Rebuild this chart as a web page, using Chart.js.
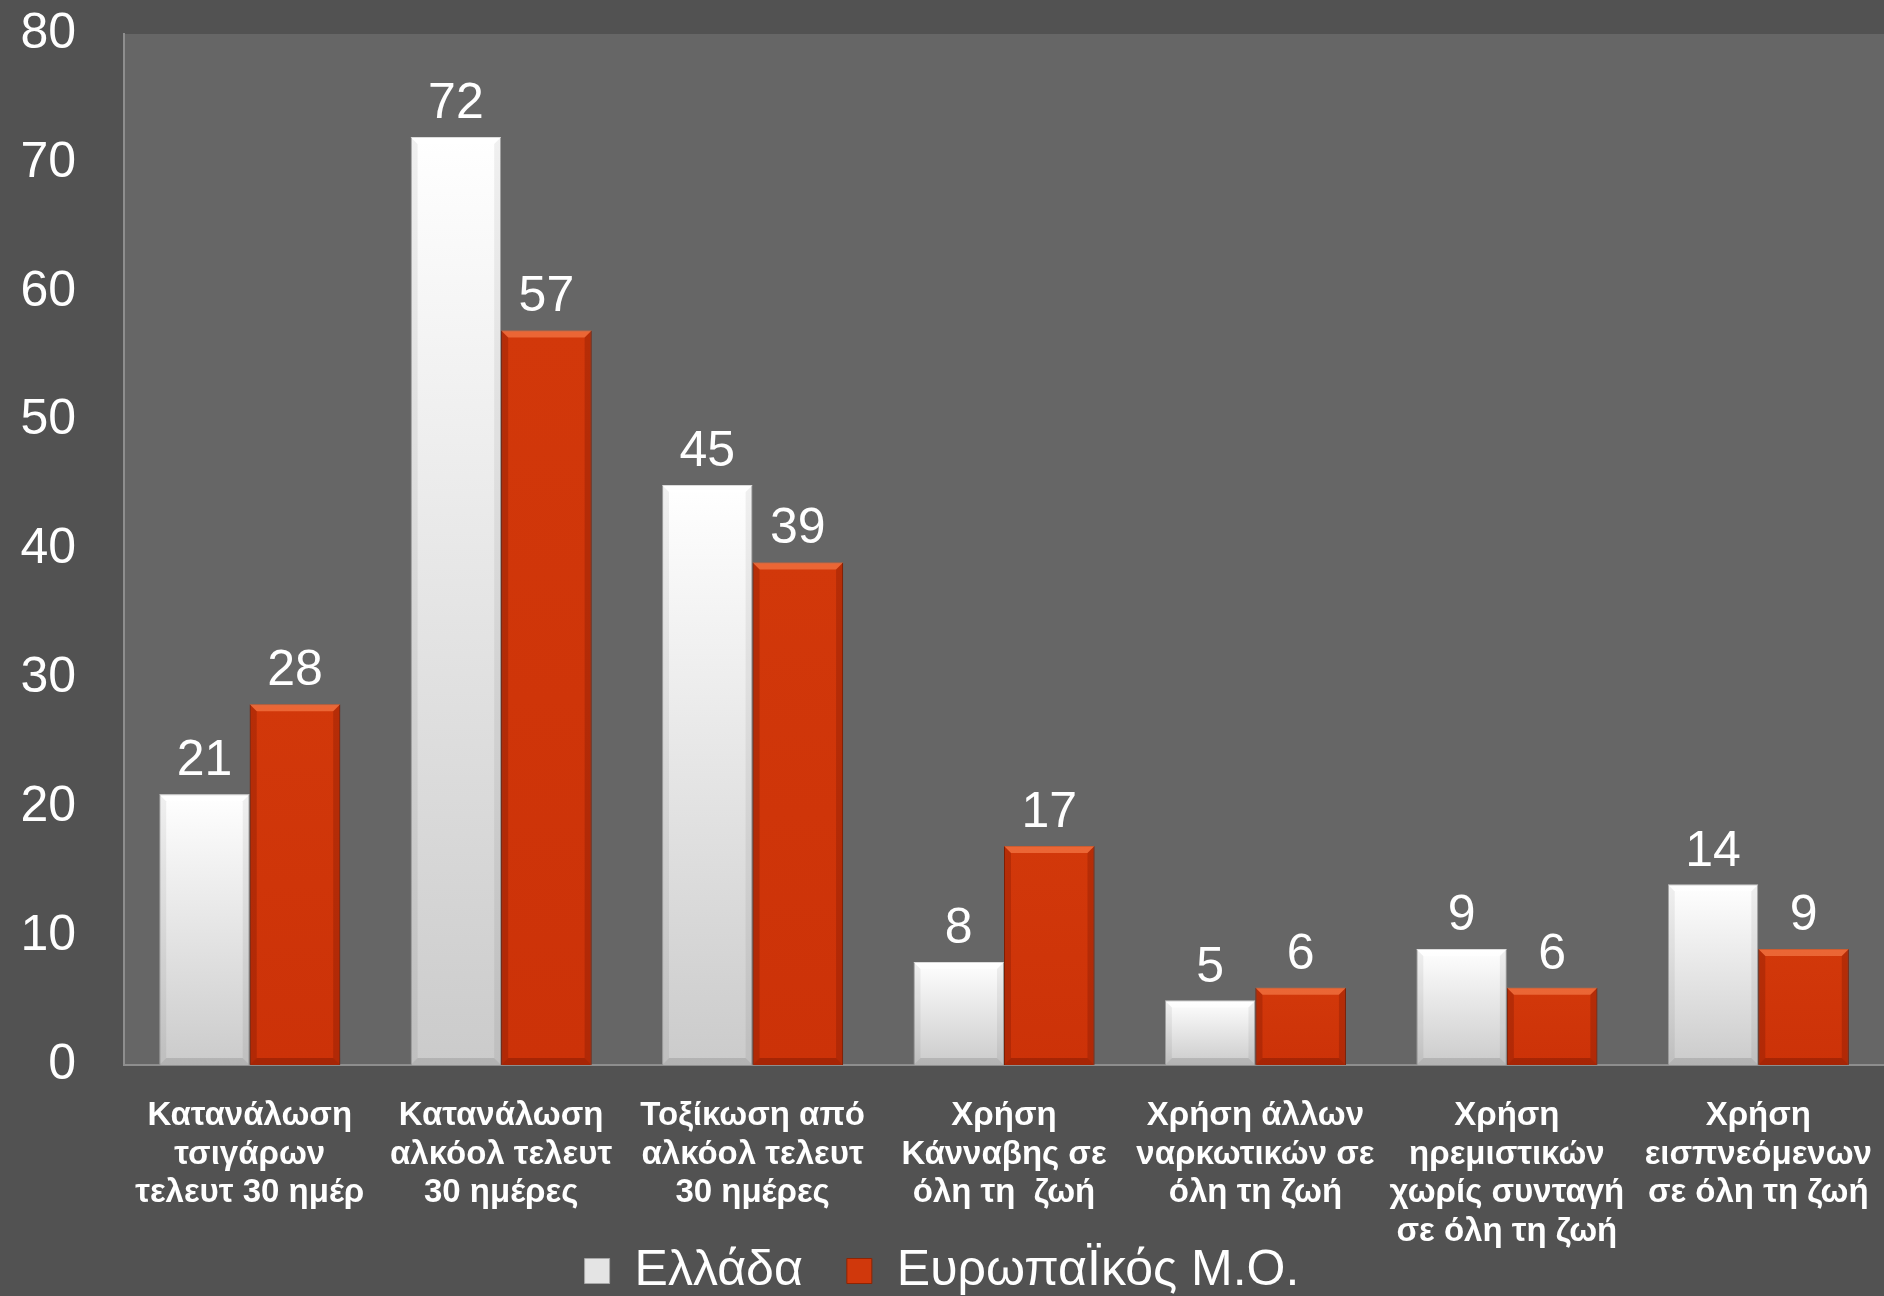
<!DOCTYPE html>
<html>
<head>
<meta charset="utf-8">
<script src="https://cdn.jsdelivr.net/npm/chart.js@4.4.1/dist/chart.umd.min.js"></script>
<style>
  html, body { margin: 0; padding: 0; background: #525252; }
  #wrap { width: 1884px; height: 1296px; }
</style>
</head>
<body>
<div id="wrap"><canvas id="chart"></canvas></div>
<script>
let categories = [
    ["Κατανάλωση", "τσιγάρων", "τελευτ 30 ημέρ"],
    ["Κατανάλωση", "αλκόολ τελευτ", "30 ημέρες"],
    ["Τοξίκωση από", "αλκόολ τελευτ", "30 ημέρες"],
    ["Χρήση", "Κάνναβης σε", "όλη τη  ζωή"],
    ["Χρήση άλλων", "ναρκωτικών σε", "όλη τη ζωή"],
    ["Χρήση", "ηρεμιστικών", "χωρίς συνταγή", "σε όλη τη ζωή"],
    ["Χρήση", "εισπνεόμενων", "σε όλη τη ζωή"]
];
let seriesNames = ["Ελλάδα", "ΕυρωπαΪκός Μ.Ο."];
let greece = [21, 72, 45, 8, 5, 9, 14];
let europe = [28, 57, 39, 17, 6, 6, 9];
let yTicks = [0, 10, 20, 30, 40, 50, 60, 70, 80];

let FONT = "'Liberation Sans', Arial, sans-serif";

// градиент для столбца, от верха к основанию
function barGradient(ctx, top, bottom) {
    let c = ctx.chart;
    if (!c.chartArea) return top;
    let v = ctx.parsed ? ctx.parsed.y : 0;
    let y0 = c.scales.y.getPixelForValue(v);
    let y1 = c.scales.y.getPixelForValue(0);
    if (!isFinite(y0) || y1 - y0 < 1) return top;
    let g = c.ctx.createLinearGradient(0, y0, 0, y1);
    g.addColorStop(0, top);
    g.addColorStop(1, bottom);
    return g;
}

// фон области построения
let plotBg = {
    id: 'plotBg',
    beforeDraw(chart) {
        let a = chart.chartArea;
        let ctx = chart.ctx;
        ctx.save();
        ctx.fillStyle = '#666666';
        ctx.fillRect(a.left, a.top, a.right - a.left, a.bottom - a.top);
        ctx.restore();
    }
};

// фаска на столбцах: светлый верх, тёмные бока
let bevel = {
    id: 'bevel',
    afterDatasetsDraw(chart) {
        let ctx = chart.ctx;
        ctx.save();
        chart.data.datasets.forEach((ds, i) => {
            let meta = chart.getDatasetMeta(i);
            meta.data.forEach((el) => {
                let l = el.x - el.width / 2, r = el.x + el.width / 2;
                let t = el.y, b = el.base, s = 7;
                if (b - t < 2 * s) s = (b - t) / 2;
                ctx.fillStyle = ds.bevelTop;
                ctx.beginPath();
                ctx.moveTo(l, t); ctx.lineTo(r, t); ctx.lineTo(r - s, t + s); ctx.lineTo(l + s, t + s);
                ctx.closePath(); ctx.fill();
                ctx.fillStyle = ds.bevelSide;
                ctx.beginPath();
                ctx.moveTo(r, t); ctx.lineTo(r, b); ctx.lineTo(r - s, b - s); ctx.lineTo(r - s, t + s);
                ctx.closePath(); ctx.fill();
                ctx.beginPath();
                ctx.moveTo(l, t); ctx.lineTo(l, b); ctx.lineTo(l + s, b - s); ctx.lineTo(l + s, t + s);
                ctx.closePath(); ctx.fill();
                ctx.fillStyle = ds.bevelBottom;
                ctx.beginPath();
                ctx.moveTo(l, b); ctx.lineTo(r, b); ctx.lineTo(r - s, b - s); ctx.lineTo(l + s, b - s);
                ctx.closePath(); ctx.fill();
            });
        });
        ctx.restore();
    }
};

// подписи значений над столбцами
let valueLabels = {
    id: 'valueLabels',
    afterDatasetsDraw(chart) {
        let ctx = chart.ctx;
        ctx.save();
        ctx.fillStyle = '#ffffff';
        ctx.font = '50px ' + FONT;
        ctx.textAlign = 'center';
        ctx.textBaseline = 'alphabetic';
        chart.data.datasets.forEach((ds, i) => {
            let meta = chart.getDatasetMeta(i);
            meta.data.forEach((el, j) => {
                ctx.fillText(String(ds.data[j]), el.x, el.y - 19);
            });
        });
        ctx.restore();
    }
};

let chart = new Chart(document.getElementById('chart'), {
    type: 'bar',
    data: {
        labels: categories,
        datasets: [
        {
            label: seriesNames[0],
            data: greece,
            backgroundColor: (c) => barGradient(c, '#ffffff', '#cbcbcb'),
            borderColor: '#a8a8a8',
            borderWidth: 1,
            legendColor: '#e4e4e4',
            bevelTop: 'rgba(255,255,255,0.6)',
            bevelSide: 'rgba(0,0,0,0.06)',
            bevelBottom: 'rgba(0,0,0,0.12)',
            categoryPercentage: 0.72,
            barPercentage: 1.0
        },
        {
            label: seriesNames[1],
            data: europe,
            backgroundColor: (c) => barGradient(c, '#d2380a', '#cc3208'),
            borderColor: '#8e2403',
            borderWidth: 1,
            legendColor: '#d0380c',
            bevelTop: 'rgba(255,140,90,0.55)',
            bevelSide: 'rgba(80,10,0,0.22)',
            bevelBottom: 'rgba(80,10,0,0.3)',
            categoryPercentage: 0.72,
            barPercentage: 1.0
        }]
    },
    options: {
        responsive: true,
        maintainAspectRatio: false,
        animation: false,
        layout: { padding: { top: 34, left: 0, right: 0, bottom: -10 } },
        scales: {
            x: {
                grid: { display: false, drawTicks: false },
                border: { display: true, color: '#8e8e8e', width: 2 },
                ticks: {
                    color: '#ffffff',
                    font: { family: FONT, size: 33, weight: 'bold', lineHeight: 1.165 },
                    padding: 32,
                    maxRotation: 0,
                    autoSkip: false
                },
                afterFit(scale) {
                    scale.height = 137;
                    scale.paddingLeft = 0;
                    scale.paddingRight = 0;
                },
                // подписи заходят в зону легенды, не обрезать их
                afterUpdate(scale) { scale._computeLabelArea = function () { return undefined; }; }
            },
            y: {
                min: 0,
                max: 80,
                afterBuildTicks(scale) { scale.ticks = yTicks.map(v => ({ value: v })); },
                grid: { display: false, drawTicks: false },
                border: { display: true, color: '#8e8e8e', width: 2 },
                ticks: {
                    color: '#ffffff',
                    font: { family: FONT, size: 50 },
                    padding: 48
                },
                afterFit(scale) {
                    scale.width = 124;
                    scale.paddingTop = 0;
                    scale.paddingBottom = 0;
                }
            }
        },
        plugins: {
            tooltip: { enabled: false },
            legend: {
                position: 'bottom',
                labels: {
                    color: '#ffffff',
                    font: { family: FONT, size: 50 },
                    boxWidth: 25,
                    boxHeight: 25,
                    padding: 44,
                    generateLabels(c) {
                        return c.data.datasets.map((ds, i) => ({
                            text: ds.label,
                            fillStyle: ds.legendColor,
                            strokeStyle: ds.borderColor,
                            lineWidth: 1,
                            fontColor: '#ffffff',
                            datasetIndex: i,
                            hidden: false
                        }));
                    }
                }
            }
        }
    },
    plugins: [plotBg, bevel, valueLabels]
});
</script>
</body>
</html>
